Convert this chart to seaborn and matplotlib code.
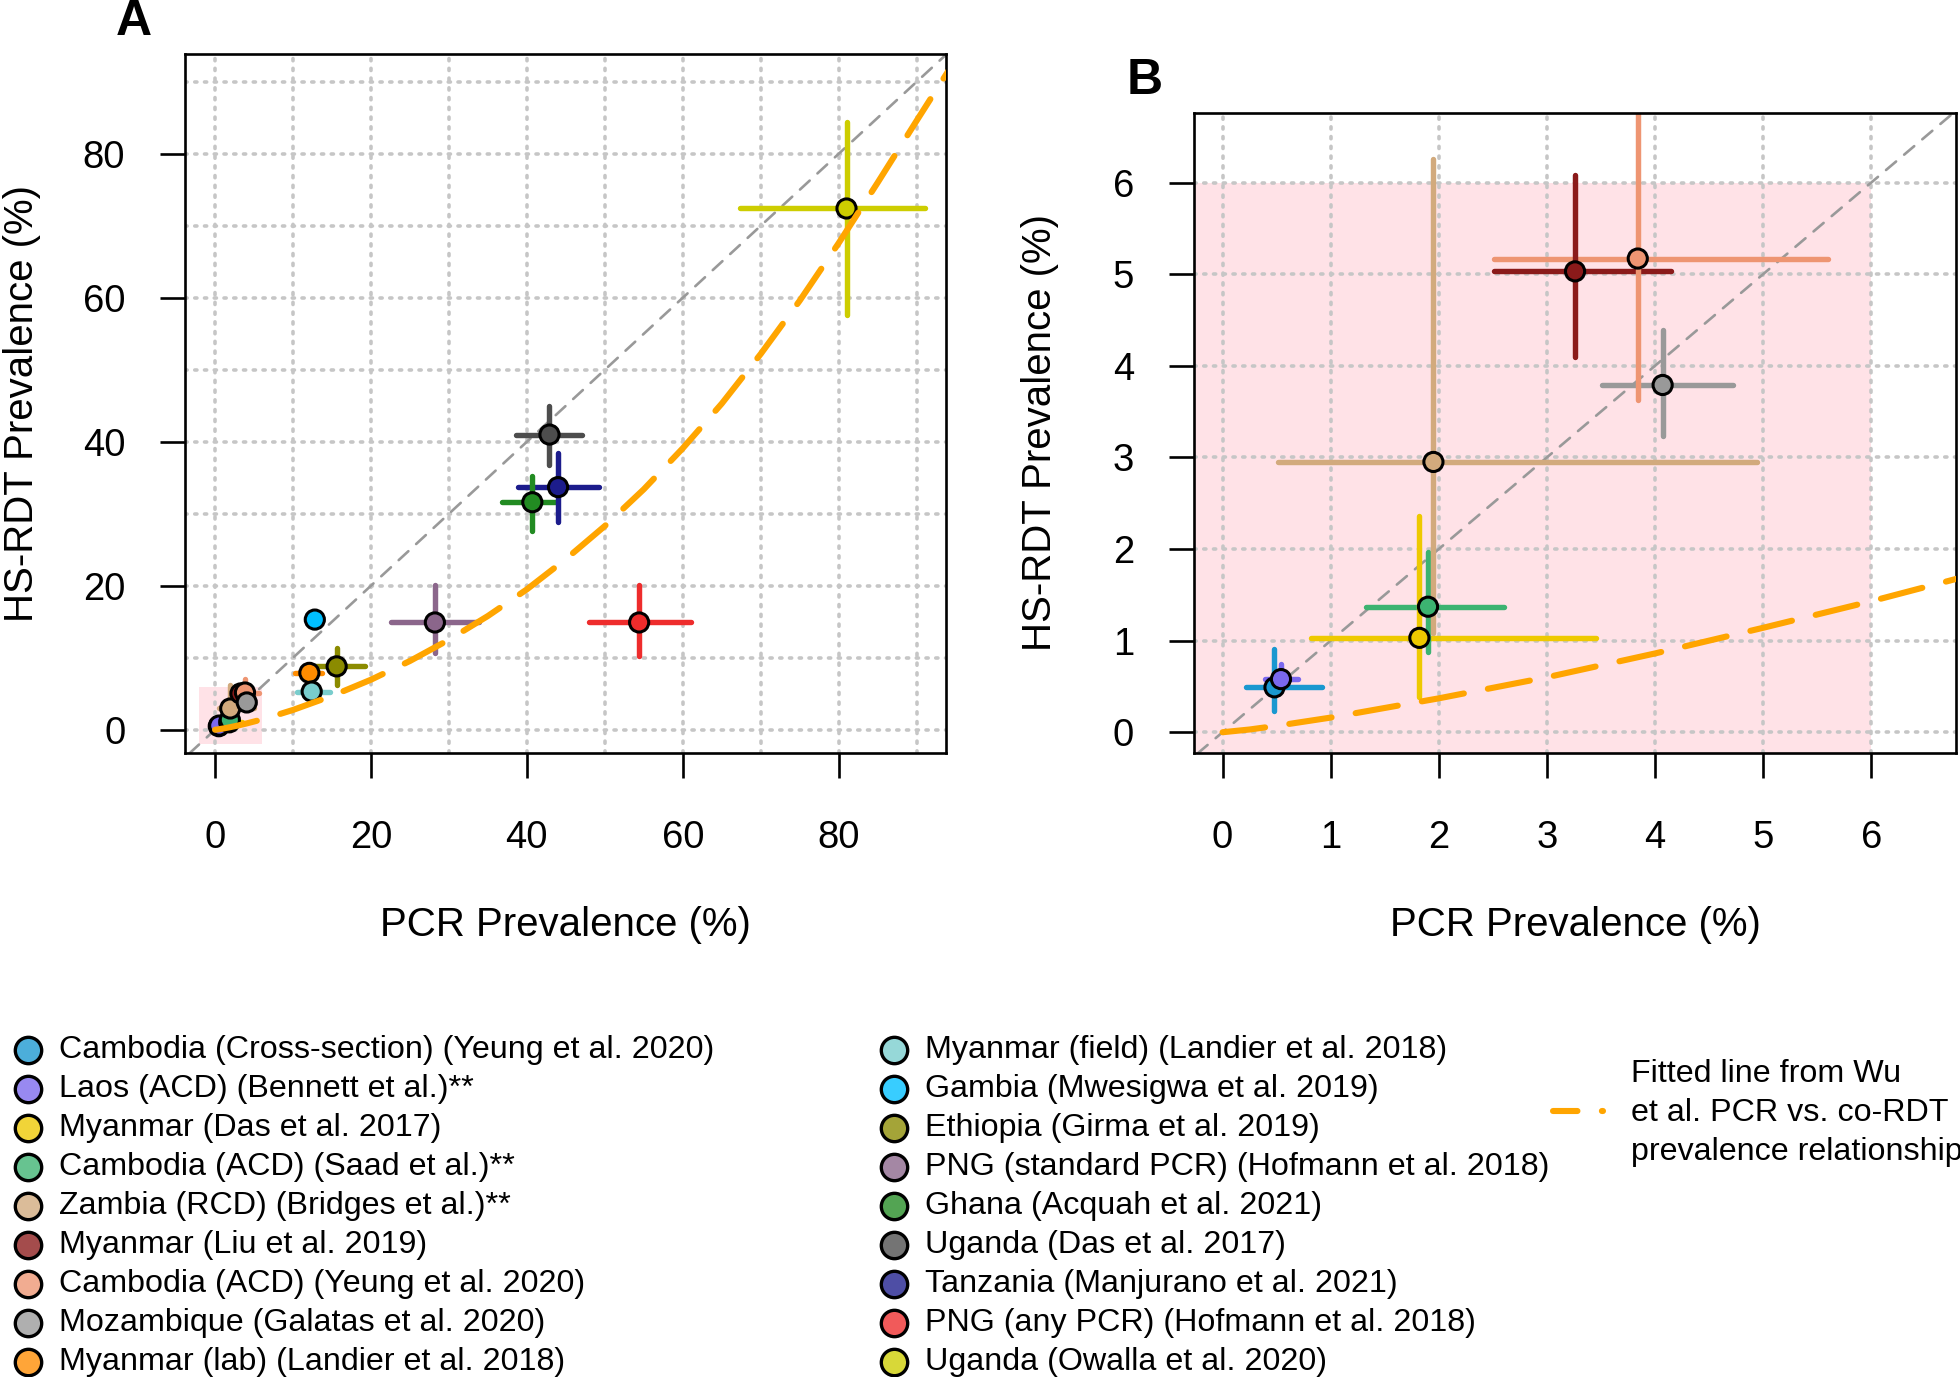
import pandas as pd
import matplotlib.pyplot as plt
import seaborn as sns
from matplotlib.colors import to_rgba
from matplotlib.patches import Rectangle
from matplotlib.ticker import MultipleLocator

# Estudos (ordem da legenda: 9 na coluna da esquerda, 9 na da direita)
estudos = [
    'Cambodia (Cross-section) (Yeung et al. 2020)',
    'Laos (ACD) (Bennett et al.)**',
    'Myanmar (Das et al. 2017)',
    'Cambodia (ACD) (Saad et al.)**',
    'Zambia (RCD) (Bridges et al.)**',
    'Myanmar (Liu et al. 2019)',
    'Cambodia (ACD) (Yeung et al. 2020)',
    'Mozambique (Galatas et al. 2020)',
    'Myanmar (lab) (Landier et al. 2018)',
    'Myanmar (field) (Landier et al. 2018)',
    'Gambia (Mwesigwa et al. 2019)',
    'Ethiopia (Girma et al. 2019)',
    'PNG (standard PCR) (Hofmann et al. 2018)',
    'Ghana (Acquah et al. 2021)',
    'Uganda (Das et al. 2017)',
    'Tanzania (Manjurano et al. 2021)',
    'PNG (any PCR) (Hofmann et al. 2018)',
    'Uganda (Owalla et al. 2020)',
]
cores = ['#1A98D0', '#7B68EE', '#EEC900', '#3CB371', '#D2AA7D', '#8B1A1A',
         '#EE9572', '#999999', '#FF8C00', '#79CDCD', '#00BFFF', '#8B8B00',
         '#8B668B', '#228B22', '#4D4D4D', '#1C1C8C', '#EE2C2C', '#CDCD00']

# Prevalencias (%) e intervalos
pcr = [0.48, 0.54, 1.82, 1.90, 1.95, 3.26, 3.84, 4.07, 12.1,
       12.4, 12.8, 15.6, 28.2, 40.7, 42.9, 44.0, 54.4, 81.0]
pcr_inf = [0.22, 0.39, 0.82, 1.33, 0.51, 2.51, 2.51, 3.51, 10.2,
           10.5, 12.2, 12.6, 22.6, 36.8, 38.6, 38.8, 48.0, 67.4]
pcr_sup = [0.92, 0.70, 3.45, 2.60, 4.94, 4.15, 5.60, 4.72, 13.7,
           14.7, 13.6, 19.2, 33.8, 43.9, 47.1, 49.3, 61.0, 91.1]
rdt = [0.49, 0.58, 1.03, 1.37, 2.95, 5.03, 5.17, 3.79, 7.9,
       5.3, 15.3, 8.8, 14.9, 31.6, 41.0, 33.7, 14.9, 72.4]
rdt_inf = [0.23, 0.45, 0.38, 0.88, 1.08, 4.10, 3.63, 3.23, 6.9,
           4.6, 14.6, 6.25, 10.6, 27.6, 36.8, 28.8, 10.2, 57.6]
rdt_sup = [0.91, 0.74, 2.36, 1.97, 6.26, 6.08, 7.00, 4.39, 8.9,
           6.0, 16.0, 11.3, 20.1, 35.2, 45.0, 38.5, 20.1, 84.4]

# Curva ajustada de Wu et al. (pontos lidos ao longo da linha laranja)
curva_pcr = [0, 0.25, 0.5, 1, 2, 3, 4, 5, 6, 7, 10, 15, 20, 25, 30, 35, 40,
             45, 50, 55, 60, 65, 70, 75, 80, 85, 90, 95]
curva_rdt = [0, 0.03, 0.07, 0.16, 0.37, 0.60, 0.86, 1.14, 1.43, 1.74, 2.75,
             4.7, 6.95, 9.55, 12.5, 15.8, 19.5, 23.7, 28.3, 33.4, 39.1, 45.3,
             52.2, 59.6, 67.6, 76.0, 84.6, 93.1]

df = pd.DataFrame({'estudo': estudos, 'cor': cores, 'pcr': pcr,
                   'pcr_inf': pcr_inf, 'pcr_sup': pcr_sup, 'rdt': rdt,
                   'rdt_inf': rdt_inf, 'rdt_sup': rdt_sup})
paleta = dict(zip(estudos, cores))

sns.set_theme(style="ticks")
plt.rcParams['font.family'] = ['Liberation Sans', 'DejaVu Sans']
plt.rcParams['lines.dash_capstyle'] = 'round'
plt.rcParams['lines.solid_capstyle'] = 'round'
for chave in ['text.color', 'axes.labelcolor', 'xtick.color', 'ytick.color', 'axes.edgecolor']:
    plt.rcParams[chave] = 'black'

fig = plt.figure(figsize=(19.6, 13.77), dpi=100)
ax_a = fig.add_axes([0.0944, 0.4528, 0.3884, 0.5082])
ax_b = fig.add_axes([0.6091, 0.4528, 0.3890, 0.4655])


def desenhar_painel(ax, xlim, ylim, ticks, passo_grade):
    ax.add_patch(Rectangle((-2, -2), 8, 8, facecolor='pink', alpha=0.45,
                           edgecolor='none', zorder=0))
    ax.set_xlim(*xlim)
    ax.set_ylim(*ylim)
    ax.set_xticks(ticks)
    ax.set_yticks(ticks)
    ax.xaxis.set_minor_locator(MultipleLocator(passo_grade))
    ax.yaxis.set_minor_locator(MultipleLocator(passo_grade))
    ax.grid(which='both', color='#C6C6C6', linestyle=(0, (0.6, 2.1)), linewidth=2.6, zorder=0.5)
    ax.set_axisbelow(True)
    ax.axline((0, 0), slope=1, color='#999999', lw=1.9, dashes=(5, 4), zorder=1)

    # barras horizontais primeiro, depois verticais, depois os pontos
    h = ax.hlines(df['rdt'], df['pcr_inf'], df['pcr_sup'], colors=df['cor'], lw=3.9, zorder=2)
    v = ax.vlines(df['pcr'], df['rdt_inf'], df['rdt_sup'], colors=df['cor'], lw=3.9, zorder=2.5)
    h.set_capstyle('round')
    v.set_capstyle('round')
    sns.scatterplot(data=df, x='pcr', y='rdt', hue='estudo', palette=paleta, s=190,
                    edgecolor='black', linewidth=2.2, legend=False, ax=ax, zorder=4)
    ax.plot(curva_pcr, curva_rdt, color='orange', lw=4.4, dashes=(7, 4), zorder=5)

    ax.tick_params(which='major', direction='out', length=18, width=1.9, labelsize=27.5)
    ax.tick_params(axis='y', pad=25)
    ax.tick_params(axis='x', pad=30)
    ax.tick_params(which='minor', length=0)
    for sp in ax.spines.values():
        sp.set_linewidth(1.9)
        sp.set_color('black')
    ax.set_xlabel('PCR Prevalence (%)', fontsize=29)
    ax.set_ylabel('HS-RDT Prevalence (%)', fontsize=29)
    ax.xaxis.label.set_va('center')
    ax.yaxis.label.set_va('center')


desenhar_painel(ax_a, (-3.85, 93.8), (-3.3, 93.9), [0, 20, 40, 60, 80], 10)
desenhar_painel(ax_b, (-0.266, 6.786), (-0.232, 6.764), [0, 1, 2, 3, 4, 5, 6], 1)
ax_a.xaxis.set_label_coords(0.5, -0.2446)
ax_a.yaxis.set_label_coords(-0.2135, 0.5)
ax_b.xaxis.set_label_coords(0.5, -0.267)
ax_b.yaxis.set_label_coords(-0.2016, 0.5)

fig.text(0.0682, 0.9837, 'A', fontsize=36, fontweight='bold', ha='center', va='center')
fig.text(0.5842, 0.941, 'B', fontsize=36, fontweight='bold', ha='center', va='center')

# Legenda desenhada num eixo em coordenadas de pixel
ax_leg = fig.add_axes([0, 0, 1, 0.27])
ax_leg.set_xlim(0, 1960)
ax_leg.set_ylim(1377, 1377 * 0.73)
ax_leg.axis('off')
for i, (nome, cor) in enumerate(zip(estudos, cores)):
    col, lin = divmod(i, 9)
    x_marca = [27.5, 894][col]
    y = 1050 + 39 * lin
    ax_leg.plot(x_marca, y, marker='o', ms=19, mew=2.4, mec='black',
                mfc=to_rgba(cor, 0.78), clip_on=False)
    ax_leg.text(x_marca + 31, y, nome, fontsize=23.2, va='center', ha='left')

ax_leg.plot([1553, 1603], [1111, 1111], color='orange', lw=4.4, dashes=(4, 4), clip_on=False)
for k, linha in enumerate(['Fitted line from Wu', 'et al. PCR vs. co-RDT',
                           'prevalence relationship']):
    ax_leg.text(1631, 1074 + 39 * k, linha, fontsize=23.2, va='center', ha='left')

fig.savefig('out.png', dpi=100)
